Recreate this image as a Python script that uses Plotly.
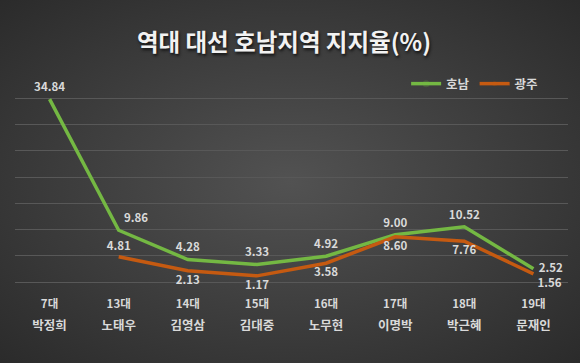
import base64
import plotly.graph_objects as go

rounds = ["7대", "13대", "14대", "15대", "16대", "17대", "18대", "19대"]
winners = ["박정희", "노태우", "김영삼", "김대중", "노무현", "이명박", "박근혜", "문재인"]
honam = [34.84, 9.86, 4.28, 3.33, 4.92, 9.00, 10.52, 2.52]
gwangju = [None, 4.81, 2.13, 1.17, 3.58, 8.60, 7.76, 1.56]

W, H = 580, 363
ML, MR, MT, MB = 15, 12, 72, 81
PW, PH = W - ML - MR, H - MT - MB

FONT = "Noto Sans CJK KR"
LABEL = "#d9d9d9"

cats = [f"{r}|{w}" for r, w in zip(rounds, winners)]
ticktext = [f"<span style='font-size:11.5px'>{r}</span><br><span style='font-size:12.5px'>{w}</span>"
            for r, w in zip(rounds, winners)]

honam_pos = ["top center", "top right", "top center", "top center", "top center",
             "top center", "top center", "middle right"]
gwangju_pos = ["bottom center", "top center", "bottom center", "bottom center", "bottom center",
               "bottom center", "bottom center", "bottom right"]

fig = go.Figure()
fig.add_trace(go.Scatter(
    x=cats, y=honam, name="호남", mode="lines+markers+text",
    line=dict(color="#74B843", width=3.5),
    marker=dict(size=7, opacity=0),
    text=[f"{v:.2f}" for v in honam], textposition=honam_pos,
    textfont=dict(family=FONT, size=11.5, color=LABEL, weight="bold"),
    cliponaxis=False,
))
fig.add_trace(go.Scatter(
    x=cats, y=gwangju, name="광주", mode="lines+markers+text",
    line=dict(color="#C55A11", width=3.5),
    marker=dict(size=5, opacity=0),
    text=[("" if v is None else f"{v:.2f}") for v in gwangju], textposition=gwangju_pos,
    textfont=dict(family=FONT, size=11.5, color=LABEL, weight="bold"),
    cliponaxis=False,
))

svg = (f'<svg xmlns="http://www.w3.org/2000/svg" width="{W}" height="{H}">'
       '<defs><radialGradient id="g" cx="50%" cy="50%" r="72%">'
       '<stop offset="0" stop-color="#525252"/><stop offset="1" stop-color="#2a2a2a"/>'
       '</radialGradient></defs>'
       f'<rect width="{W}" height="{H}" fill="url(#g)"/></svg>')
uri = "data:image/svg+xml;base64," + base64.b64encode(svg.encode()).decode()

fig.update_layout(
    width=W, height=H,
    margin=dict(l=ML, r=MR, t=MT, b=MB, autoexpand=False),
    paper_bgcolor="#404040", plot_bgcolor="rgba(0,0,0,0)",
    font=dict(family=FONT, color=LABEL),
    title=dict(text="역대 대선 호남지역 지지율(%)", x=284 / W, xanchor="center",
               y=1 - 43 / H, yanchor="middle", yref="container",
               font=dict(family=FONT, size=23.5, color="#f2f2f2", weight="bold",
                         shadow="1px 2px 3px #111")),
    showlegend=True,
    legend=dict(orientation="h", x=0.955, xanchor="right", y=(282 - 84) / PH, yanchor="middle",
                font=dict(family=FONT, size=12.5, color=LABEL, weight="bold"),
                bgcolor="rgba(0,0,0,0)", itemwidth=30),
    images=[dict(source=uri, xref="paper", yref="paper", x=-ML / PW, y=1 + MT / PH,
                 sizex=W / PW, sizey=H / PH, sizing="stretch", layer="below",
                 xanchor="left", yanchor="top")],
    xaxis=dict(type="category", categoryorder="array", categoryarray=cats,
               tickvals=cats, ticktext=ticktext, range=[-0.5, 7.5], automargin=False,
               showgrid=False, zeroline=False, showline=False, ticks="",
               tickfont=dict(family=FONT, size=17, color=LABEL, weight="bold"),
               ticklabelstandoff=8),
    yaxis=dict(range=[0, 40], dtick=5, showticklabels=False, showgrid=True, automargin=False,
               gridcolor="#585858", gridwidth=1, zeroline=True, zerolinecolor="#585858",
               zerolinewidth=1, showline=False, ticks=""),
)

fig.write_html("out.html", config={"displayModeBar": False},
               post_script="document.body.style.margin='0';document.body.style.overflow='hidden';")
